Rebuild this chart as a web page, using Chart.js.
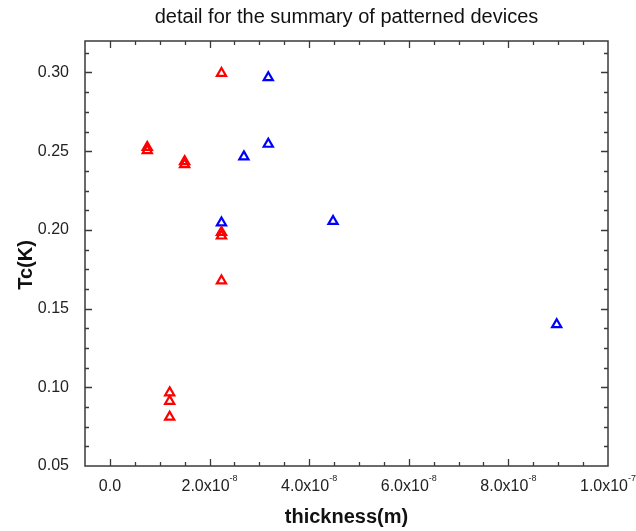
<!DOCTYPE html>
<html>
<head>
<meta charset="utf-8">
<script src="https://cdn.jsdelivr.net/npm/chart.js@4/dist/chart.umd.min.js"></script>
<style>
  html, body { margin: 0; padding: 0; background: #ffffff; }
  #wrap { width: 636px; height: 531px; }
</style>
</head>
<body>
<div id="wrap"><canvas id="c" width="636" height="531"></canvas></div>
<script>
// Tc versus film thickness, two device batches
const redThickness = [7.5e-9, 7.5e-9, 1.5e-8, 1.5e-8, 2.24e-8, 2.24e-8, 2.24e-8, 2.24e-8, 1.2e-8, 1.2e-8, 1.2e-8];
const redTc        = [0.2505, 0.2525, 0.2415, 0.2435, 0.2995, 0.1985, 0.1962, 0.1677, 0.0966, 0.0912, 0.0811];

const blueThickness = [2.24e-8, 2.69e-8, 3.18e-8, 3.18e-8, 4.48e-8, 8.97e-8];
const blueTc        = [0.2045, 0.2465, 0.2545, 0.2968, 0.2055, 0.1399];

// axis ticks
const xTickValues = [0, 2e-8, 4e-8, 6e-8, 8e-8, 1e-7];
const xTickText   = ['0.0', '2.0x10', '4.0x10', '6.0x10', '8.0x10', '1.0x10'];
const xTickPower  = ['', '-8', '-8', '-8', '-8', '-7'];
const xMinorStep  = 5e-9;

const yTickValues = [0.05, 0.10, 0.15, 0.20, 0.25, 0.30];
const yMinorStep  = 0.0125;

const FONT = "'Liberation Sans', Arial, Helvetica, sans-serif";
const AXIS_COLOR = '#3a3a3a';

function toPoints(xs, ys) {
  return xs.map((x, i) => ({ x: x, y: ys[i] }));
}

// frame, inward tick marks, x tick labels with exponents, y axis title
const framePlugin = {
  id: 'frame',
  afterDraw(chart) {
    const ctx = chart.ctx;
    const a = chart.chartArea;
    const xs = chart.scales.x;
    const ys = chart.scales.y;
    ctx.save();
    ctx.strokeStyle = AXIS_COLOR;
    ctx.lineWidth = 1.5;
    ctx.strokeRect(a.left, a.top, a.right - a.left, a.bottom - a.top);

    const majorLen = 7, minorLen = 4;
    ctx.lineWidth = 1.3;
    ctx.beginPath();
    // x ticks (bottom and top)
    for (let v = xs.min; v <= xs.max + 1e-12; v += xMinorStep) {
      const px = Math.round(xs.getPixelForValue(v)) + 0.5;
      if (px <= a.left + 1 || px >= a.right - 1) continue;
      const isMajor = xTickValues.some(t => Math.abs(t - v) < 1e-12);
      const len = isMajor ? majorLen : minorLen;
      ctx.moveTo(px, a.bottom); ctx.lineTo(px, a.bottom - len);
      ctx.moveTo(px, a.top); ctx.lineTo(px, a.top + len);
    }
    // y ticks (left and right)
    for (let v = ys.min; v <= ys.max + 1e-9; v += yMinorStep) {
      const py = Math.round(ys.getPixelForValue(v)) + 0.5;
      if (py <= a.top + 1 || py >= a.bottom - 1) continue;
      const isMajor = yTickValues.some(t => Math.abs(t - v) < 1e-6);
      const len = isMajor ? majorLen : minorLen;
      ctx.moveTo(a.left, py); ctx.lineTo(a.left + len, py);
      ctx.moveTo(a.right, py); ctx.lineTo(a.right - len, py);
    }
    ctx.stroke();

    // x tick labels: mantissa with raised exponent
    ctx.fillStyle = '#222';
    ctx.textBaseline = 'alphabetic';
    ctx.textAlign = 'left';
    const mainFont = '16px ' + FONT;
    const supFont = '9px ' + FONT;
    xTickValues.forEach((v, i) => {
      const px = xs.getPixelForValue(v);
      ctx.font = mainFont;
      const w1 = ctx.measureText(xTickText[i]).width;
      ctx.font = supFont;
      const w2 = xTickPower[i] ? ctx.measureText(xTickPower[i]).width : 0;
      const x0 = px - (w1 + w2) / 2;
      ctx.font = mainFont;
      ctx.fillText(xTickText[i], x0, a.bottom + 25);
      if (xTickPower[i]) {
        ctx.font = supFont;
        ctx.fillText(xTickPower[i], x0 + w1, a.bottom + 15);
      }
    });

    // y axis title
    ctx.translate(26, 265);
    ctx.rotate(-Math.PI / 2);
    ctx.textAlign = 'center';
    ctx.textBaseline = 'middle';
    ctx.font = 'bold 20px ' + FONT;
    ctx.fillStyle = '#111';
    ctx.fillText('Tc(K)', 0, 0);
    ctx.restore();
  }
};

const markerBase = {
  showLine: false,
  pointStyle: 'triangle',
  pointRadius: 5.3,
  pointHoverRadius: 5.3,
  pointBorderWidth: 2.2,
  pointBackgroundColor: 'rgba(255,255,255,0)'
};

new Chart(document.getElementById('c'), {
  type: 'scatter',
  data: {
    datasets: [
      Object.assign({}, markerBase, {
        label: 'red batch',
        data: toPoints(redThickness, redTc),
        borderColor: '#ff0000',
        pointBorderColor: '#ff0000'
      }),
      Object.assign({}, markerBase, {
        label: 'blue batch',
        data: toPoints(blueThickness, blueTc),
        borderColor: '#0000ff',
        pointBorderColor: '#0000ff'
      })
    ]
  },
  options: {
    responsive: false,
    animation: false,
    events: [],
    layout: { padding: { top: 0, right: 28, bottom: 0, left: 0 } },
    plugins: {
      legend: { display: false },
      tooltip: { enabled: false },
      title: {
        display: true,
        fullSize: false,
        text: 'detail for the summary of patterned devices',
        color: '#111',
        font: { family: FONT, size: 20, weight: 'normal' },
        padding: { top: 5, bottom: 12 }
      }
    },
    scales: {
      x: {
        type: 'linear',
        min: -5e-9,
        max: 1e-7,
        grid: { display: false },
        border: { display: false },
        ticks: { display: false },
        afterBuildTicks: s => { s.ticks = xTickValues.map(v => ({ value: v })); },
        afterFit: s => { s.height = 65; },
        title: {
          display: true,
          text: 'thickness(m)',
          color: '#111',
          font: { family: FONT, size: 20, weight: 'bold' },
          padding: { top: 0, bottom: 2 }
        }
      },
      y: {
        type: 'linear',
        min: 0.05,
        max: 0.32,
        grid: { display: false },
        border: { display: false },
        afterBuildTicks: s => { s.ticks = yTickValues.map(v => ({ value: v })); },
        afterFit: s => { s.width = 85; },
        ticks: {
          padding: 8,
          color: '#222',
          font: { family: FONT, size: 16 },
          callback: v => Number(v).toFixed(2)
        }
      }
    }
  },
  plugins: [framePlugin]
});
</script>
</body>
</html>
